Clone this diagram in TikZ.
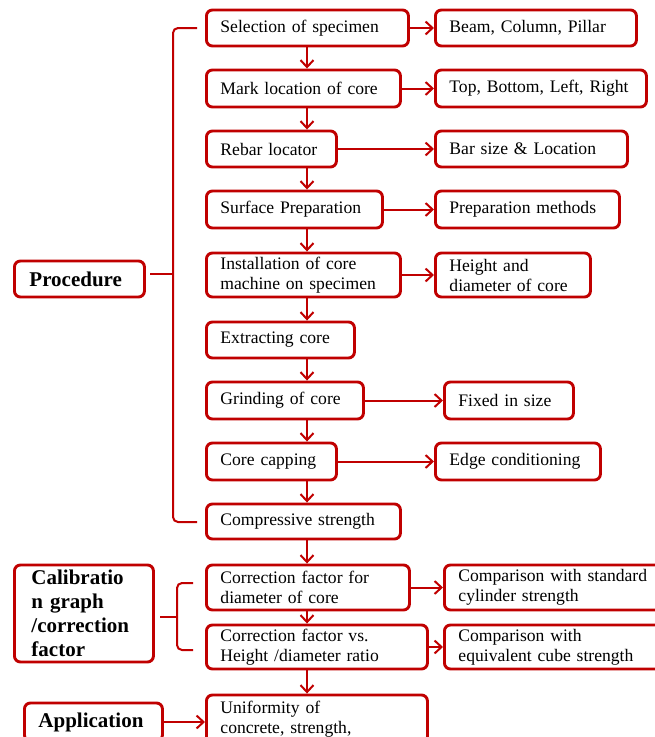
\documentclass[tikz,border=0pt]{standalone}
\usepackage{fontspec}
\setmainfont{Liberation Serif}
\usetikzlibrary{arrows.meta}
\definecolor{dred}{RGB}{192,0,0}
\begin{document}
\begin{tikzpicture}[x=1pt,y=-1pt,
 box/.style={draw=dred,line width=2.9pt,rounded corners=6pt,fill=white,anchor=west,
   inner xsep=14pt,inner ysep=0pt,align=left,font=\fontsize{17.6}{20}\selectfont},
 lbl/.style={box,font=\bfseries\fontsize{21}{24}\selectfont},
 arr/.style={draw=dred,line width=2pt,-{Straight Barb[length=7pt,width=13pt,line width=2pt]}},
 brace/.style={draw=dred,line width=2pt,rounded corners=5pt}]
\useasboundingbox (0,0) rectangle (655,737);
\clip (0,0) rectangle (655,737);
\coordinate (ax) at (307,0);
% central column
\node[box,text width=174pt,minimum height=36pt] (c1) at (205,28) {Selection of specimen};
\node[box,text width=166pt,minimum height=37pt] (c2) at (205,88.5) {Mark location of core};
\node[box,text width=102pt,minimum height=36pt] (c3) at (205,149) {Rebar locator};
\node[box,text width=148pt,minimum height=37pt] (c4) at (205,209.5) {Surface Preparation};
\node[box,text width=166pt,minimum height=44pt] (c5) at (205,275) {Installation of core\\machine on specimen};
\node[box,text width=120pt,minimum height=36pt] (c6) at (205,340) {Extracting core};
\node[box,text width=129pt,minimum height=37pt] (c7) at (205,400.5) {Grinding of core};
\node[box,text width=102pt,minimum height=37pt] (c8) at (205,461.5) {Core capping};
\node[box,text width=166pt,minimum height=35pt] (c9) at (205,521.5) {Compressive strength};
\node[box,text width=175pt,minimum height=45pt] (c10) at (205,587.5) {Correction factor for\\diameter of core};
\node[box,text width=193pt,minimum height=44pt] (c11) at (205,647) {Correction factor vs.\\Height /diameter ratio};
\node[box,text width=193pt,minimum height=48pt] (c12) at (205,719) {Uniformity of\\concrete, strength,};
% right column
\node[box,text width=173pt,minimum height=36pt] (r1) at (434,28) {Beam, Column, Pillar};
\node[box,text width=183pt,minimum height=37pt] (r2) at (434,88.5) {\mbox{Top, Bottom, Left, Right}};
\node[box,text width=164pt,minimum height=36pt] (r3) at (434,149) {Bar size \& Location};
\node[box,text width=156pt,minimum height=37pt] (r4) at (434,209.5) {Preparation methods};
\node[box,text width=127pt,minimum height=44pt] (r5) at (434,275) {Height and\\diameter of core};
\node[box,text width=101pt,minimum height=37pt] (r7) at (443,400.5) {Fixed in size};
\node[box,text width=137pt,minimum height=37pt] (r8) at (434,461.5) {Edge conditioning};
\node[box,text width=209pt,minimum height=45pt] (r10) at (443,587.5) {Comparison with standard\\cylinder strength};
\node[box,text width=209pt,minimum height=44pt] (r11) at (443,647) {Comparison with\\equivalent cube strength};
% left labels
\node[lbl,inner xsep=15pt,text width=100pt,minimum height=36pt] (proc) at (13,279) {Procedure};
\node[lbl,inner xsep=17pt,text width=105pt,minimum height=97pt] (cal) at (13,613.5) {Calibratio\\n graph\\/correction\\factor};
\node[lbl,inner xsep=14pt,text width=110pt,minimum height=38pt] (app) at (23,722) {Application};
% vertical arrows
\foreach \a/\b in {c1/c2,c2/c3,c3/c4,c4/c5,c5/c6,c6/c7,c7/c8,c8/c9,c9/c10,c10/c11,c11/c12}
  \draw[arr] (\a.south -| ax) -- (\b.north -| ax);
% horizontal arrows
\foreach \a/\b in {c1/r1,c2/r2,c3/r3,c4/r4,c5/r5,c7/r7,c8/r8,c10/r10,c11/r11}
  \draw[arr] (\a.east) -- (\b.west);
\draw[arr] (app.east) -- (app.east -| c12.west);
% braces
\coordinate (pa) at (197,28);
\coordinate (pm) at (173,274);
\coordinate (pb) at (197,522);
\coordinate (pt) at (150,274);
\draw[brace] (pa) -| (pm) |- (pb);
\draw[brace] (pt) -- (pm);
\coordinate (qa) at (193,583);
\coordinate (qm) at (177,617);
\coordinate (qb) at (193,650);
\coordinate (qt) at (160,617);
\draw[brace] (qa) -| (qm) |- (qb);
\draw[brace] (qt) -- (qm);
\end{tikzpicture}
\end{document}
